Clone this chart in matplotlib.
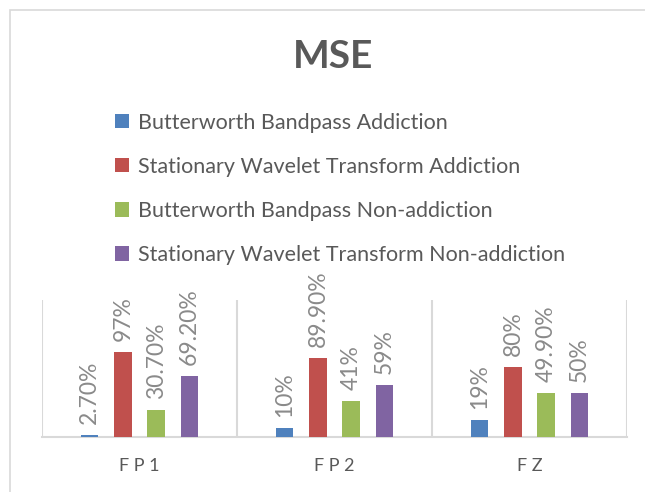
import matplotlib
matplotlib.use("Agg")
import matplotlib.pyplot as plt
from matplotlib.patches import Rectangle
import numpy as np

categories = ["FP1", "FP2", "FZ"]
series_names = [
    "Butterworth Bandpass Addiction",
    "Stationary Wavelet Transform Addiction",
    "Butterworth Bandpass Non-addiction",
    "Stationary Wavelet Transform Non-addiction",
]
bb_add = [0.027, 0.10, 0.19]
swt_add = [0.97, 0.899, 0.80]
bb_non = [0.307, 0.41, 0.499]
swt_non = [0.692, 0.59, 0.50]
label_texts = [
    ["2.70%", "10%", "19%"],
    ["97%", "89.90%", "80%"],
    ["30.70%", "41%", "49.90%"],
    ["69.20%", "59%", "50%"],
]
colors = ["#4F81BD", "#C0504D", "#9BBB59", "#8064A2"]

plt.rcParams['font.family'] = ['Lato', 'DejaVu Sans']
W, H = 645, 492
fig = plt.figure(figsize=(W / 100, H / 100), dpi=100)

# outer chart border
fig.patches.append(Rectangle((10 / W, -0.05), 1.1, 1 - 10 / H + 0.05, transform=fig.transFigure,
                             fill=False, edgecolor="#d9d9d9", linewidth=1.2))

# axes: x 42..627 px, y 300..437 px (from top)
ax = fig.add_axes([42 / W, (H - 437) / H, (627 - 42) / W, (437 - 300) / H])
series = [bb_add, swt_add, bb_non, swt_non]
x = np.arange(len(categories))
spacing = 0.17
width = 0.088
for i, (vals, c, name) in enumerate(zip(series, colors, series_names)):
    pos = x + (i - 1.5) * spacing
    ax.bar(pos, vals, width=width, color=c, label=name, zorder=3)
    for p, v, t in zip(pos, vals, label_texts[i]):
        ax.annotate(t, (p, v), xytext=(0, 8), textcoords="offset points",
                    rotation=90, ha="center", va="bottom", fontsize=16.5,
                    color="#8a8a8a", annotation_clip=False)

ax.set_xlim(-0.5, len(categories) - 0.5)
ax.set_ylim(0, 1.565)
ax.set_yticks([])
ax.set_xticks(x)
ax.set_xticklabels([" ".join(c) for c in categories], fontsize=13, color="#595959")
ax.tick_params(axis="x", length=0, pad=15)
for s in ["top", "right", "left"]:
    ax.spines[s].set_visible(False)
ax.spines["bottom"].set_color("#d9d9d9")
ax.spines["bottom"].set_linewidth(1.5)
for b in np.arange(-0.5, len(categories), 1.0):
    ax.axvline(b, color="#d9d9d9", linewidth=1.5, zorder=1)

fig.text(333 / W, 1 - 56 / H, "MSE", ha="center", va="center", fontsize=28,
         fontweight="bold", color="#595959")

handles, labels = ax.get_legend_handles_labels()
fig.legend(handles, labels, loc="upper left", bbox_to_anchor=(104 / W, 1 - 102 / H),
           frameon=False, fontsize=15.5, labelcolor="#595959", handlelength=0.65,
           handleheight=0.65, handletextpad=0.45, labelspacing=1.12, borderpad=0)

fig.savefig("out.png", dpi=100)
